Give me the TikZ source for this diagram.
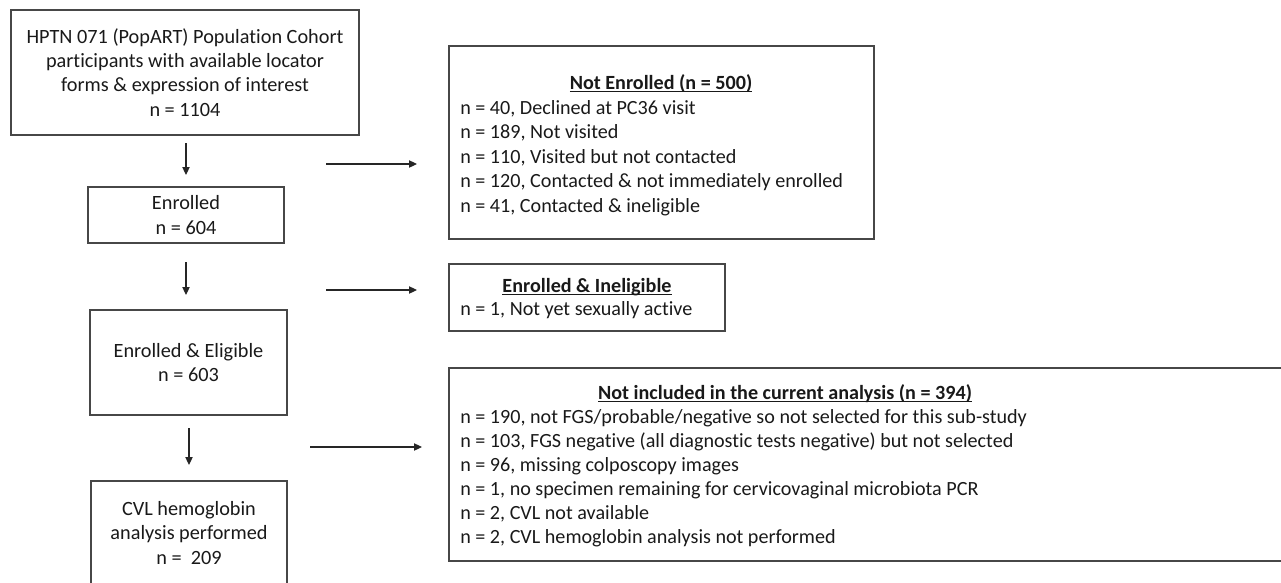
\documentclass[tikz,border=0pt]{standalone}
\usepackage{fontspec}
\setmainfont{Carlito}[Ligatures=NoCommon]
\usetikzlibrary{arrows.meta,calc}
\newcommand{\hul}[1]{\setbox0\hbox{#1}\rlap{\rule[-2.4pt]{\wd0}{0.95pt}}\box0}
\begin{document}
\begin{tikzpicture}[x=0.75pt,y=-0.75pt,
  box/.style={draw=black!72,line width=1.1pt,rectangle,anchor=north west,outer sep=0pt,inner sep=2pt,align=center,text=black!90,font=\fontsize{15.2}{18.2}\selectfont},
  itemtxt/.style={anchor=base west,inner sep=0pt,text=black!90,font=\fontsize{15.1}{18.2}\selectfont},
  headtxt/.style={anchor=base,inner sep=0pt,text=black!90,font=\fontsize{15.1}{18.2}\selectfont\bfseries},
  flow/.style={draw=black!85,line width=0.8pt,-{Triangle[length=6pt,width=5.5pt]}}]
\useasboundingbox (0,0) rectangle (1281,582);
% left column
\node[box,minimum width=261pt,minimum height=93.75pt] (pop) at (11,10)
  {HPTN 071 (PopART) Population Cohort\\participants with available locator\\forms \& expression of interest\\n = 1104};
\node[box,minimum width=147pt,minimum height=42pt] (enr) at (88,187)
  {Enrolled\\n = 604};
\node[box,minimum width=147.75pt,minimum height=78.75pt] (eli) at (90,310)
  {Enrolled \& Eligible\\n = 603};
\node[box,minimum width=147pt,minimum height=78pt] (cvl) at (91,481)
  {CVL hemoglobin\\analysis performed\\n =\ \ 209};
% right column boxes
\node[box,minimum width=318.75pt,minimum height=144.75pt] (ne) at (449,46) {};
\node[box,minimum width=207pt,minimum height=50.25pt] (ei) at (449,264) {};
\node[box,minimum width=630.75pt,minimum height=144.75pt] (ni) at (449,368) {};
% texts of right boxes
\node[headtxt] (neh) at (661,89) {\hul{Not Enrolled (n = 500)}};
\foreach \t [count=\i] in {{n = 40, Declined at PC36 visit},{n = 189, Not visited},{n = 110, Visited but not contacted},{n = 120, Contacted \& not immediately enrolled},{n = 41, Contacted \& ineligible}}
  \node[itemtxt] (ne\i) at (460,{114+24.5*(\i-1)}) {\t};
\node[headtxt] (eih) at (587,292) {\hul{Enrolled \& Ineligible}};
\node[itemtxt] (ei1) at (460,315) {n = 1, Not yet sexually active};
\node[headtxt] (nih) at (785,399) {\hul{Not included in the current analysis (n = 394)}};
\foreach \t [count=\i] in {{n = 190, not FGS/probable/negative so not selected for this sub-study},{n = 103, FGS negative (all diagnostic tests negative) but not selected},{n = 96, missing colposcopy images},{n = 1, no specimen remaining for cervicovaginal microbiota PCR},{n = 2, CVL not available},{n = 2, CVL hemoglobin analysis not performed}}
  \node[itemtxt] (ni\i) at (460,{423+24*(\i-1)}) {\t};
% vertical arrows
\draw[flow,shorten <=6pt,shorten >=9pt] (pop.south -| enr.north) -- (enr.north);
\draw[flow,shorten <=14.25pt,shorten >=11.25pt] (enr.south) -- (enr.south |- eli.north);
\draw[flow,shorten <=9.75pt,shorten >=12pt] (eli.south -| 189,0) -- (189,481);
% horizontal arrows
\coordinate (h1) at (326,164);
\coordinate (h2) at (326,290);
\coordinate (h3) at (310,447);
\draw[flow,shorten >=24pt] (h1) -- (h1 -| ne.west);
\draw[flow,shorten >=24pt] (h2) -- (h2 -| ei.west);
\draw[flow,shorten >=20.25pt] (h3) -- (h3 -| ni.west);
\end{tikzpicture}
\end{document}
